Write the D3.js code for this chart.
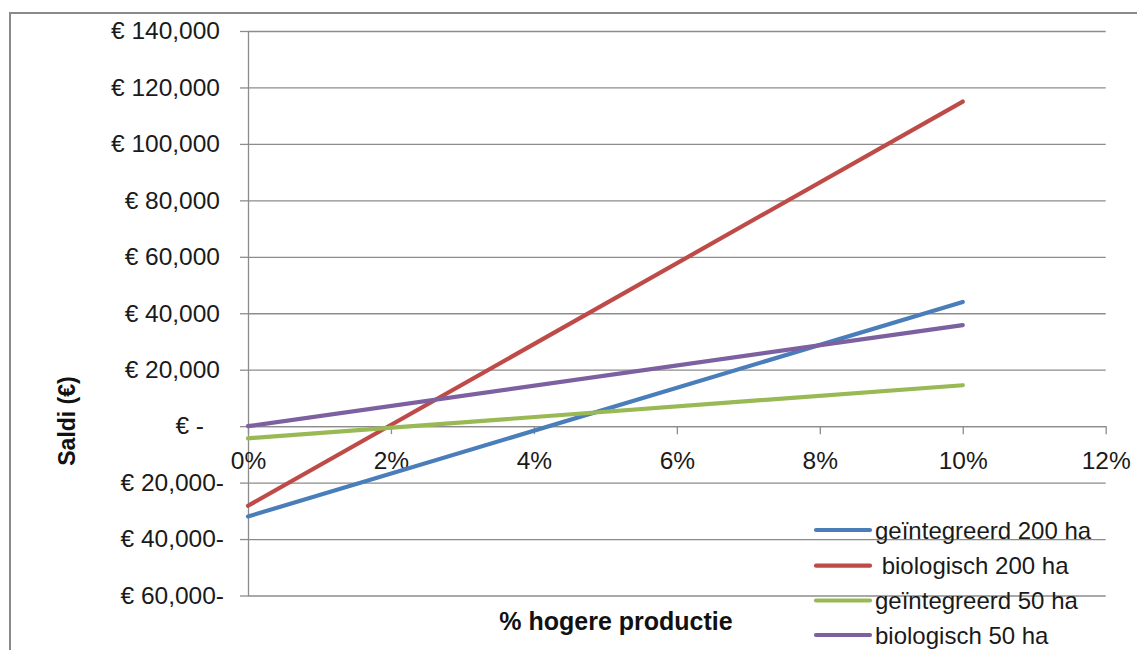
<!DOCTYPE html>
<html>
<head>
<meta charset="utf-8">
<script src="https://cdn.jsdelivr.net/npm/d3@7"></script>
<style>
  html, body { margin: 0; padding: 0; background: #fff; }
  svg { display: block; font-family: "Liberation Sans", Arial, sans-serif; }
  text { white-space: pre; }
</style>
</head>
<body>
<svg id="chart" width="1137" height="650"></svg>
<script>
// ---- data ----
const xValues = [0, 0.10];                       // % hogere productie
const seriesNames = ["geïntegreerd 200 ha", " biologisch 200 ha", "geïntegreerd 50 ha", "biologisch 50 ha"];
const geintegreerd200 = [-32000, 44000];
const biologisch200   = [-28200, 115000];
const geintegreerd50  = [-4300, 14500];
const biologisch50    = [0, 35800];
const seriesColors = ["#4a7ebb", "#be4b48", "#98b954", "#7d60a0"];
const yTicks = [-60000, -40000, -20000, 0, 20000, 40000, 60000, 80000, 100000, 120000, 140000];
const xTicks = [0, 0.02, 0.04, 0.06, 0.08, 0.10, 0.12];
const xTitle = "% hogere productie";
const yTitle = "Saldi (€)";

const seriesValues = [geintegreerd200, biologisch200, geintegreerd50, biologisch50];

// ---- layout ----
const svg = d3.select("#chart");
const plot = { left: 248, right: 1105.7, top: 31, bottom: 595.5 };
const gridColor = "#8c8c8c";

// outer chart border
svg.append("rect")
  .attr("x", 10).attr("y", 13)
  .attr("width", 1200).attr("height", 700)
  .attr("fill", "none").attr("stroke", "#8a8a8a").attr("stroke-width", 2);

const x = d3.scaleLinear().domain([0, 0.12]).range([plot.left, plot.right]);
const y = d3.scaleLinear().domain([-60000, 140000]).range([plot.bottom, plot.top]);

// gridlines
const grid = svg.append("g")
  .attr("transform", `translate(${plot.left},0)`)
  .call(d3.axisLeft(y).tickValues(yTicks).tickSize(-(plot.right - plot.left)).tickFormat(""));
grid.select(".domain").remove();
grid.selectAll("line").attr("stroke", gridColor).attr("stroke-width", 1.3);

// y axis
const fmt = d3.format(",");
const yLabel = v => v === 0 ? "€ -" : (v > 0 ? "€ " + fmt(v) : "€ " + fmt(-v) + "-");
const yAxis = svg.append("g")
  .attr("transform", `translate(${plot.left},0)`)
  .call(d3.axisLeft(y).tickValues(yTicks).tickSize(8).tickSizeOuter(0).tickPadding(16).tickFormat(yLabel));
yAxis.selectAll("line, path").attr("stroke", gridColor).attr("stroke-width", 1.3);
yAxis.selectAll("text")
  .attr("font-size", 24.5).attr("fill", "#1a1a1a")
  .attr("font-family", "Liberation Sans, Arial, sans-serif")
  .attr("dx", d => d === 0 ? -20 : (d > 0 ? -4 : 0));

// x axis at zero
const xAxis = svg.append("g")
  .attr("transform", `translate(0,${y(0)})`)
  .call(d3.axisBottom(x).tickValues(xTicks).tickSize(8).tickSizeOuter(0).tickPadding(17)
    .tickFormat(d3.format(".0%")));
xAxis.selectAll("line, path").attr("stroke", gridColor).attr("stroke-width", 1.3);
xAxis.selectAll("text")
  .attr("font-size", 24.5).attr("fill", "#1a1a1a")
  .attr("font-family", "Liberation Sans, Arial, sans-serif");

// series lines
const line = d3.line().x((d, i) => x(xValues[i])).y(d => y(d));
svg.append("g").selectAll("path")
  .data(seriesValues)
  .join("path")
  .attr("d", d => line(d))
  .attr("fill", "none")
  .attr("stroke", (d, i) => seriesColors[i])
  .attr("stroke-width", 4.2)
  .attr("stroke-linecap", "round");

// axis titles
svg.append("text")
  .attr("x", 616).attr("y", 630)
  .attr("text-anchor", "middle")
  .attr("font-size", 25).attr("font-weight", "bold").attr("fill", "#111")
  .text(xTitle);
svg.append("text")
  .attr("transform", "translate(75,421) rotate(-90)")
  .attr("text-anchor", "middle")
  .attr("font-size", 23).attr("font-weight", "bold").attr("fill", "#111")
  .text(yTitle);

// legend
const legendRows = [530, 565.7, 600.5, 635];
const legend = svg.append("g").selectAll("g")
  .data(seriesNames)
  .join("g")
  .attr("transform", (d, i) => `translate(816,${legendRows[i]})`);
legend.append("line")
  .attr("x1", 0).attr("x2", 54).attr("y1", 0).attr("y2", 0)
  .attr("stroke", (d, i) => seriesColors[i])
  .attr("stroke-width", 4.2).attr("stroke-linecap", "round");
legend.append("text")
  .attr("x", 59).attr("dy", "0.36em")
  .attr("font-size", 24).attr("fill", "#1a1a1a")
  .text(d => d);
</script>
</body>
</html>
